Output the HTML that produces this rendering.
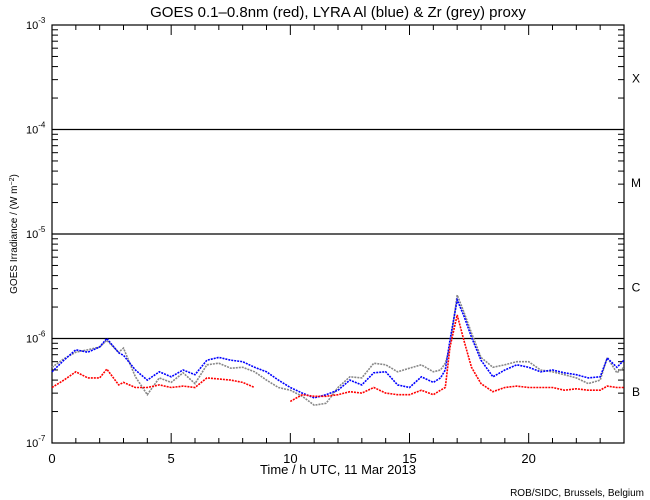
<!DOCTYPE html>
<html><head><meta charset="utf-8"><style>
body{margin:0;background:#fff}
svg{display:block;font-family:"Liberation Sans",sans-serif}
</style></head><body>
<svg id="chart" width="650" height="500" xmlns="http://www.w3.org/2000/svg">
<rect width="650" height="500" fill="#fff"/>
<text x="338" y="17" font-size="15" text-anchor="middle">GOES 0.1–0.8nm (red), LYRA Al (blue) &amp; Zr (grey) proxy</text>
<g id="axes"></g>
<g id="series"></g>
<text x="338" y="474" font-size="13" text-anchor="middle">Time / h UTC, 11 Mar 2013</text>
<text transform="translate(17,234) rotate(-90)" font-size="10" text-anchor="middle">GOES Irradiance / (W m<tspan baseline-shift="super" font-size="7">−2</tspan>)</text>
<text x="644" y="496" font-size="10" text-anchor="end">ROB/SIDC, Brussels, Belgium</text>
</svg>
<script>
const xTicks=[0,5,10,15,20];
const yDecades=[-7,-6,-5,-4,-3];
const flareClasses=["B","C","M","X"];
const tBlue=[0,0.5,1,1.5,2,2.3,2.8,3,3.5,4,4.5,5,5.5,6,6.5,7,7.5,8,8.5,9,9.5,10,10.5,11,11.5,12,12.5,13,13.5,14,14.5,15,15.5,16,16.3,16.5,16.7,17,17.3,17.6,18,18.5,19,19.5,20,20.5,21,21.5,22,22.5,23,23.3,23.7,24];
const blue=[4.8e-7,6.2e-7,7.8e-7,7.4e-7,8.3e-7,1e-6,7.3e-7,6.9e-7,5.0e-7,4.0e-7,4.8e-7,4.3e-7,5.0e-7,4.5e-7,6.2e-7,6.6e-7,6.2e-7,6.0e-7,5.3e-7,4.8e-7,4.0e-7,3.4e-7,3.0e-7,2.7e-7,2.9e-7,3.2e-7,4.0e-7,3.6e-7,4.7e-7,4.8e-7,3.6e-7,3.4e-7,4.3e-7,3.8e-7,4.2e-7,5.0e-7,9.7e-7,2.34e-6,1.61e-6,1.03e-6,6.2e-7,4.3e-7,5.0e-7,5.6e-7,5.3e-7,4.8e-7,5.0e-7,4.7e-7,4.5e-7,4.2e-7,4.3e-7,6.5e-7,5.3e-7,6.2e-7];
const grey=[5.3e-7,6.4e-7,7.4e-7,7.8e-7,8.3e-7,9.6e-7,7.4e-7,8.1e-7,4.3e-7,2.9e-7,4.2e-7,3.8e-7,4.7e-7,3.7e-7,5.6e-7,5.8e-7,5.2e-7,5.3e-7,4.8e-7,4.0e-7,3.4e-7,3.2e-7,2.8e-7,2.3e-7,2.4e-7,3.4e-7,4.3e-7,4.2e-7,5.8e-7,5.6e-7,4.8e-7,5.2e-7,5.6e-7,4.8e-7,5.0e-7,5.8e-7,8.3e-7,2.61e-6,1.75e-6,1.13e-6,6.6e-7,5.3e-7,5.6e-7,6.0e-7,6.0e-7,5.0e-7,4.8e-7,4.5e-7,4.2e-7,3.7e-7,4.0e-7,6.6e-7,4.7e-7,5.3e-7];
const red=[3.4e-7,4.0e-7,4.8e-7,4.2e-7,4.2e-7,5.1e-7,3.6e-7,3.8e-7,3.4e-7,3.4e-7,3.6e-7,3.4e-7,3.5e-7,3.4e-7,4.2e-7,4.1e-7,4.0e-7,3.8e-7,3.4e-7,null,null,2.5e-7,2.9e-7,2.8e-7,2.8e-7,2.9e-7,3.1e-7,3.0e-7,3.4e-7,3.0e-7,2.9e-7,2.9e-7,3.2e-7,2.9e-7,3.2e-7,3.4e-7,8.3e-7,1.68e-6,9.3e-7,5.3e-7,3.7e-7,3.1e-7,3.4e-7,3.5e-7,3.4e-7,3.4e-7,3.4e-7,3.2e-7,3.3e-7,3.2e-7,3.2e-7,3.5e-7,3.4e-7,3.4e-7];

const X0=52,X1=624,Y0=25,Y1=443;
const xs=t=>X0+(X1-X0)*t/24;
const ys=v=>Y1-(Math.log10(v)+7)*(Y1-Y0)/4;
const NS="http://www.w3.org/2000/svg";
function mk(tag,attrs,parent){const e=document.createElementNS(NS,tag);for(const k in attrs)e.setAttribute(k,attrs[k]);parent.appendChild(e);return e;}
const ax=document.getElementById('axes');
const frame=mk('rect',{x:X0,y:Y0,width:X1-X0,height:Y1-Y0,fill:'none',stroke:'#000','stroke-width':1.2},ax);


for(let h=0;h<=24;h++){
  const len=(h%5===0)?10:5;
  mk('line',{x1:xs(h),x2:xs(h),y1:Y1,y2:Y1-len,stroke:'#000'},ax);
  mk('line',{x1:xs(h),x2:xs(h),y1:Y0,y2:Y0+len,stroke:'#000'},ax);
}
xTicks.forEach(h=>{
  const t=mk('text',{x:xs(h),y:Y1+20,'font-size':13,'text-anchor':'middle'},ax);
  t.textContent=h;
  
  
});
for(let d=-7;d<-3;d++){for(let m=2;m<10;m++){const y=ys(m*Math.pow(10,d));
  mk('line',{x1:X0,x2:X0+6,y1:y,y2:y,stroke:'#000'},ax);
  mk('line',{x1:X1,x2:X1-6,y1:y,y2:y,stroke:'#000'},ax);}}
yDecades.forEach(d=>{
  const y=ys(Math.pow(10,d));
  if(d>-7&&d<-3){const l=mk('line',{x1:X0,x2:X1,y1:y,y2:y,stroke:'#000','stroke-width':1.2},ax);
    
    }
  const t=mk('text',{x:26,y:y+4,'font-size':11},ax);
  t.innerHTML='10<tspan dy="-6" font-size="8">'+d+'</tspan>';
  
  
});
flareClasses.forEach((c,i)=>{
  const t=mk('text',{x:636,y:ys(Math.pow(10,-6.5+i))+5,'font-size':12,'text-anchor':'middle'},ax);
  t.textContent=c;
  
  
});
const sg=document.getElementById('series');
function draw(vals,color,name){
  let segs=[],cur=[];
  vals.forEach((v,i)=>{if(v==null){if(cur.length)segs.push(cur);cur=[];}else cur.push(xs(tBlue[i]).toFixed(1)+','+ys(v).toFixed(1));});
  if(cur.length)segs.push(cur);
  segs.forEach(s=>{
    const p=mk('polyline',{points:s.join(' '),fill:'none',stroke:color,'stroke-width':1.6,'stroke-dasharray':'2 1'},sg);
    
    
  });
}
draw(grey,'#888','zr-grey-series');
draw(blue,'#0000ff','al-blue-series');
draw(red,'#ff0000','goes-red-series');
</script>
</body></html>
